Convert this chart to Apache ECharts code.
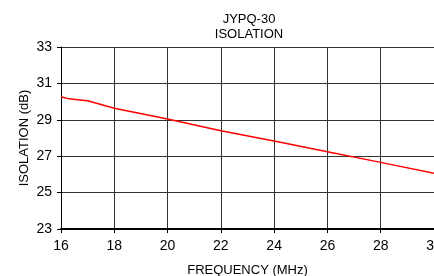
<!DOCTYPE html>
<html>
<head>
<meta charset="utf-8">
<script src="https://cdn.jsdelivr.net/npm/echarts@6/dist/echarts.min.js"></script>
<style>
html,body{margin:0;padding:0;background:#fff;}
#myChart{width:434px;height:276px;}
</style>
</head>
<body>
<div id="myChart"></div>
<script>
// 频率 (MHz) 与隔离度 (dB)
var freq = [16, 16.3, 16.8, 17, 18, 20, 22, 24, 26, 28, 30];
var isolation = [30.27, 30.15, 30.08, 30.05, 29.63, 29.04, 28.40, 27.84, 27.25, 26.66, 26.06];

var pts = [];
for (var i = 0; i < freq.length; i++) {
    pts.push([freq[i], isolation[i]]);
}

var myChart = echarts.init(document.getElementById("myChart"));
var fnt = 'Liberation Sans, Arial, sans-serif';
var Option = {
    animation: false,
    title: {
        text: 'JYPQ-30\nISOLATION',
        left: 244,
        top: 7,
        textAlign: 'center',
        textStyle: {fontSize: 13, fontWeight: 'normal', color: '#000', fontFamily: fnt, lineHeight: 15}
    },
    grid: {left: 61, right: 0, top: 47, bottom: 47, outerBoundsMode: 'none', containLabel: false},
    xAxis: {
        type: 'value',
        min: 16, max: 30, interval: 2,
        name: 'FREQUENCY (MHz)',
        nameLocation: 'middle',
        nameGap: 35,
        nameTextStyle: {fontSize: 13, color: '#000', fontFamily: fnt},
        axisLine: {lineStyle: {color: '#000', width: 2}},
        axisTick: {show: true, length: 4, lineStyle: {color: '#000'}},
        axisLabel: {fontSize: 14, color: '#000', fontFamily: fnt, margin: 10, showMaxLabel: true},
        splitLine: {lineStyle: {color: '#333', width: 1}}
    },
    yAxis: {
        type: 'value',
        min: 23, max: 33, interval: 2,
        name: 'ISOLATION (dB)',
        nameLocation: 'middle',
        nameGap: 30,
        nameMoveOverlap: false,
        nameTextStyle: {fontSize: 13, color: '#000', fontFamily: fnt},
        axisLine: {show: true, lineStyle: {color: '#000', width: 1}},
        axisTick: {show: true, length: 4, lineStyle: {color: '#000'}},
        axisLabel: {fontSize: 14, color: '#000', fontFamily: fnt, margin: 9},
        splitLine: {lineStyle: {color: '#333', width: 1}}
    },
    series: [{
        type: 'line',
        data: pts,
        showSymbol: false,
        symbol: 'none',
        lineStyle: {color: '#ff0000', width: 1.5}
    }]
};
myChart.setOption(Option);
</script>
</body>
</html>
